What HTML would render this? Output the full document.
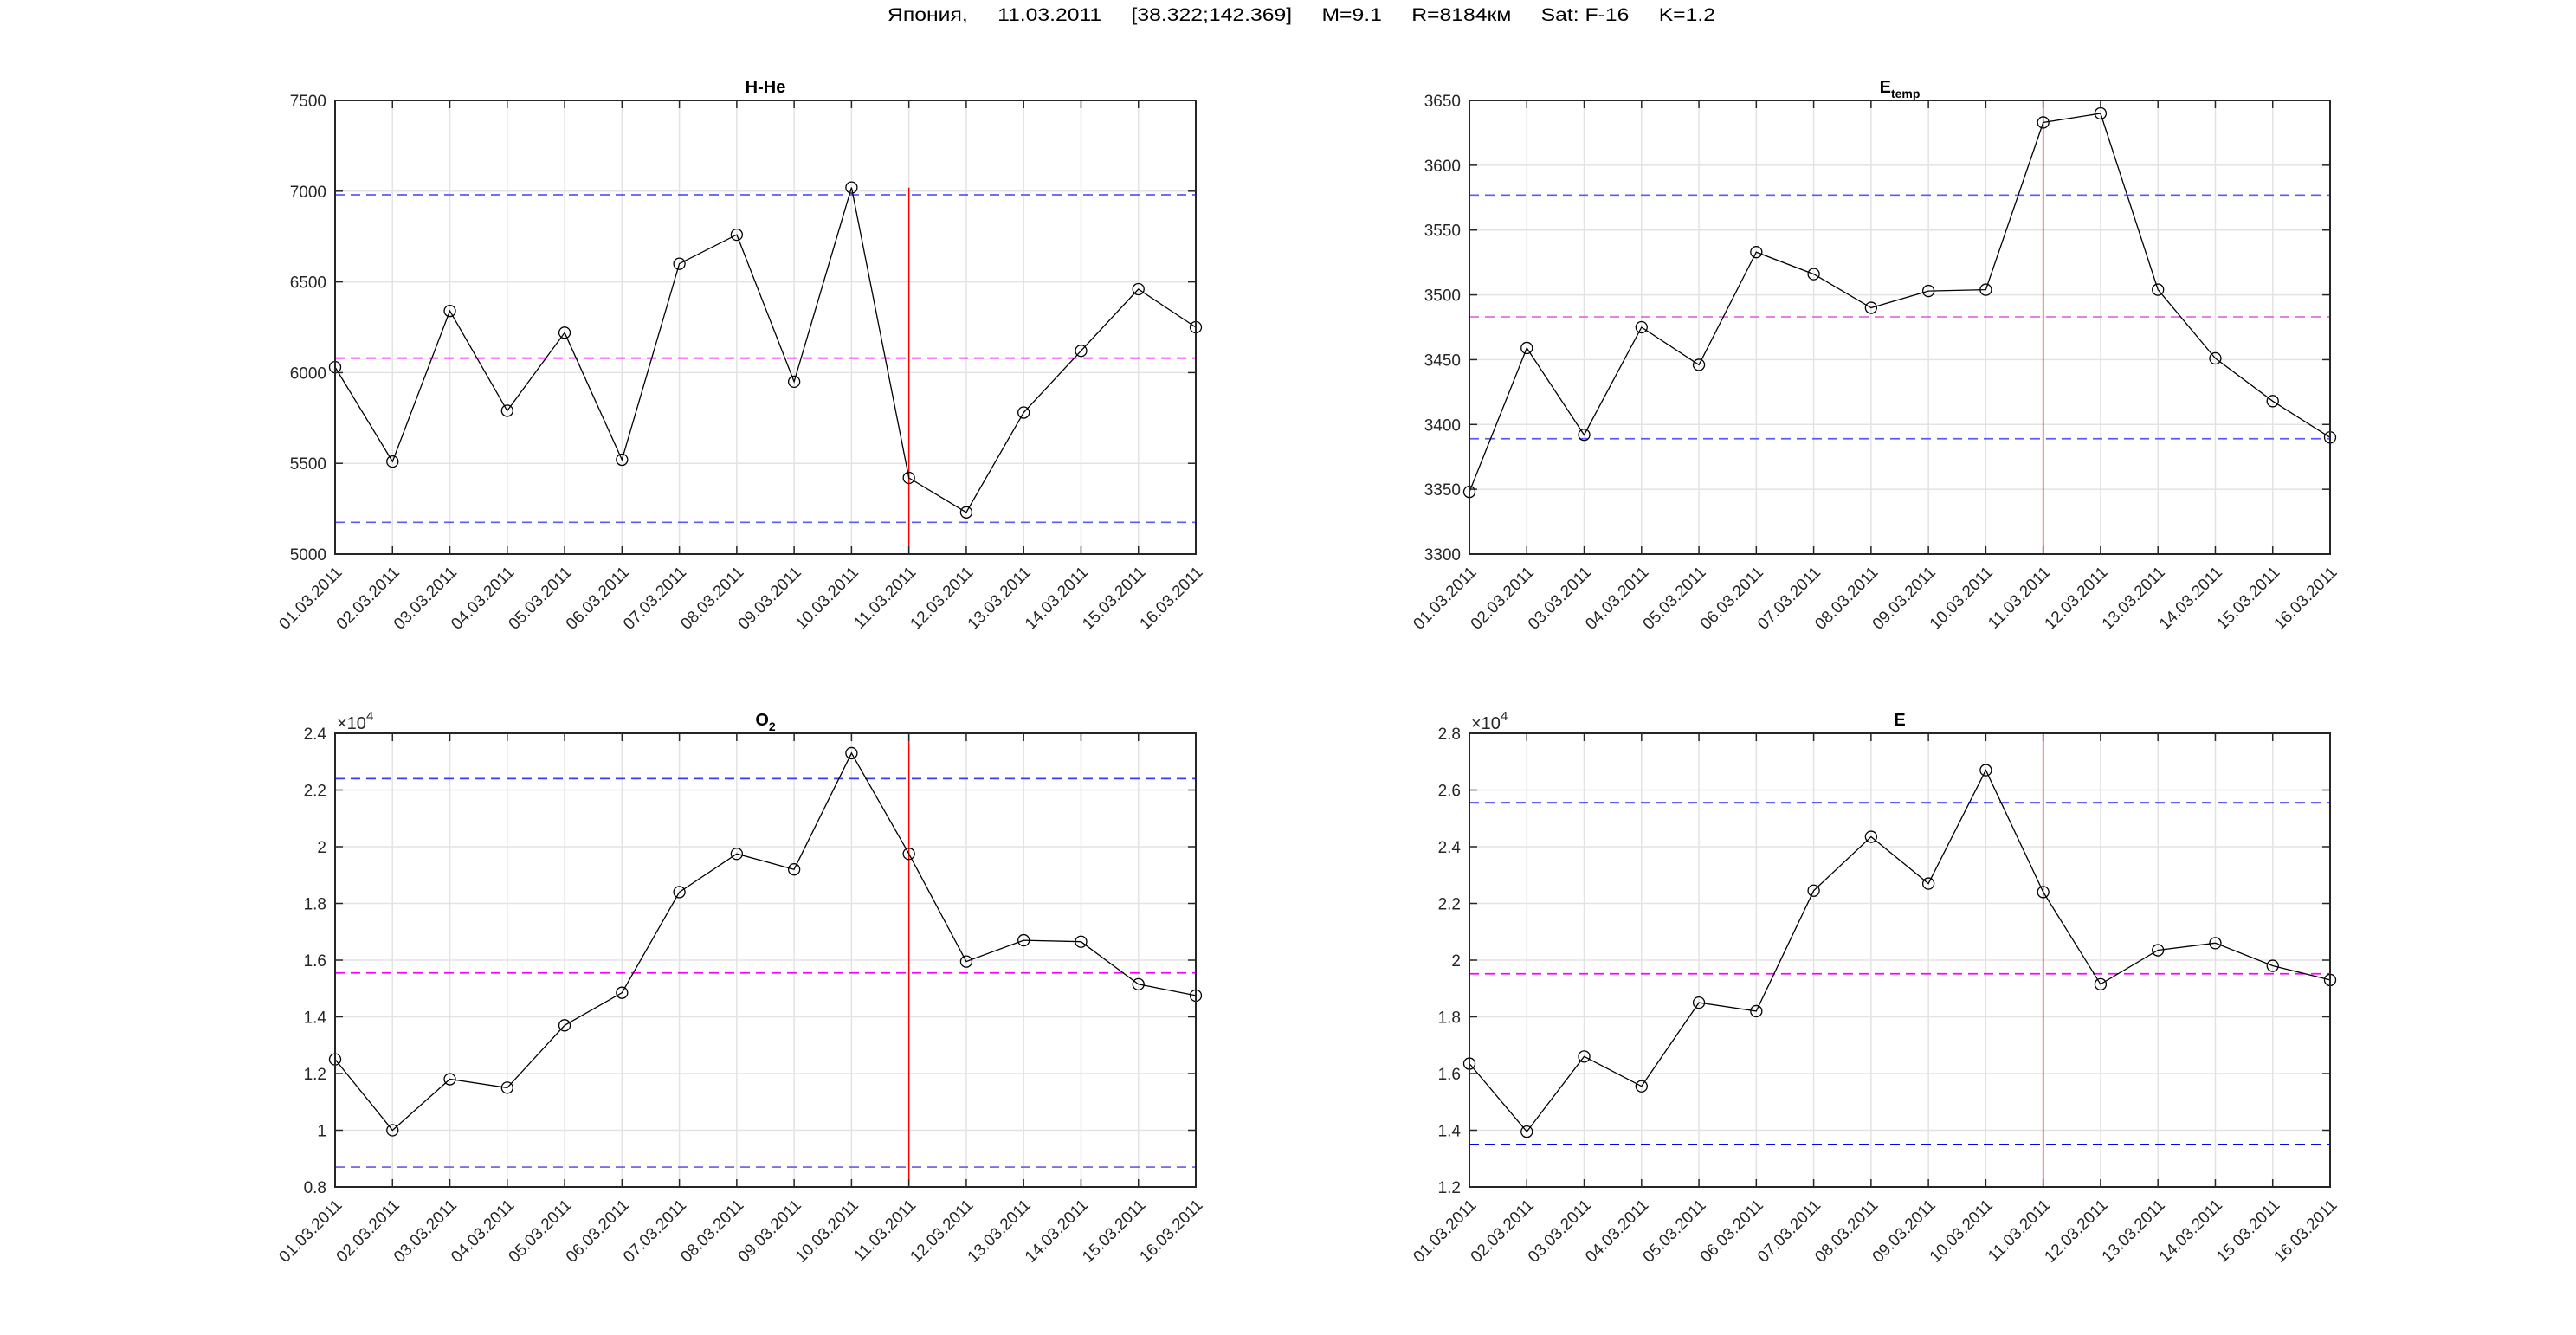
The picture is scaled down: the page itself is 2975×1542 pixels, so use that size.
<!DOCTYPE html>
<html><head><meta charset="utf-8"><style>
html,body{margin:0;padding:0;background:#fff}
svg{display:block}
text{font-family:"Liberation Sans",Arial,sans-serif;fill:#262626}
.yl{font-size:19px;text-anchor:end}
.dl{font-size:19px;text-anchor:end}
.tt{font-size:20px;font-weight:bold;fill:#000;text-anchor:middle}
</style></head><body>
<svg id="s" width="2975" height="1542" viewBox="0 0 2975 1542" xmlns="http://www.w3.org/2000/svg">
<rect width="2975" height="1542" fill="#fff"/>
<text x="1503" y="24" style="font-size:21px;fill:#000;text-anchor:middle" textLength="956" lengthAdjust="spacingAndGlyphs" xml:space="preserve">Япония,     11.03.2011     [38.322;142.369]     M=9.1     R=8184км     Sat: F-16     K=1.2</text>
<g id="geo"></g>

<text class="tt" x="884" y="107">H-He</text>
<text class="tt" x="2194" y="107">E<tspan dy="6" style="font-size:14px">temp</tspan></text>
<text class="tt" x="884" y="838">O<tspan dy="6" style="font-size:14px">2</tspan></text>
<text class="tt" x="2194" y="838">E</text>
<text x="389" y="842" style="font-size:20px">×10<tspan dy="-10" style="font-size:15px">4</tspan></text>
<text x="1699" y="842" style="font-size:20px">×10<tspan dy="-10" style="font-size:15px">4</tspan></text>

<g transform="translate(377,116)">
<text class="yl" y="531">5000</text><text class="yl" y="426.2">5500</text><text class="yl" y="321.4">6000</text><text class="yl" y="216.6">6500</text><text class="yl" y="111.8">7000</text><text class="yl" y="7">7500</text>
</g>
<g transform="translate(1687,116)">
<text class="yl" y="531">3300</text><text class="yl" y="456.1">3350</text><text class="yl" y="381.3">3400</text><text class="yl" y="306.4">3450</text><text class="yl" y="231.6">3500</text><text class="yl" y="156.7">3550</text><text class="yl" y="81.9">3600</text><text class="yl" y="7">3650</text>
</g>
<g transform="translate(377,847)">
<text class="yl" y="531">0.8</text><text class="yl" y="465.5">1</text><text class="yl" y="400">1.2</text><text class="yl" y="334.5">1.4</text><text class="yl" y="269">1.6</text><text class="yl" y="203.5">1.8</text><text class="yl" y="138">2</text><text class="yl" y="72.5">2.2</text><text class="yl" y="7">2.4</text>
</g>
<g transform="translate(1687,847)">
<text class="yl" y="531">1.2</text><text class="yl" y="465.5">1.4</text><text class="yl" y="400">1.6</text><text class="yl" y="334.5">1.8</text><text class="yl" y="269">2</text><text class="yl" y="203.5">2.2</text><text class="yl" y="138">2.4</text><text class="yl" y="72.5">2.6</text><text class="yl" y="7">2.8</text>
</g>

<g transform="translate(387,640)">
<text class="dl" transform="translate(9,22) rotate(-45)">01.03.2011</text>
<text class="dl" transform="translate(75.3,22) rotate(-45)">02.03.2011</text>
<text class="dl" transform="translate(141.5,22) rotate(-45)">03.03.2011</text>
<text class="dl" transform="translate(207.8,22) rotate(-45)">04.03.2011</text>
<text class="dl" transform="translate(274.1,22) rotate(-45)">05.03.2011</text>
<text class="dl" transform="translate(340.4,22) rotate(-45)">06.03.2011</text>
<text class="dl" transform="translate(406.6,22) rotate(-45)">07.03.2011</text>
<text class="dl" transform="translate(472.9,22) rotate(-45)">08.03.2011</text>
<text class="dl" transform="translate(539.2,22) rotate(-45)">09.03.2011</text>
<text class="dl" transform="translate(605.4,22) rotate(-45)">10.03.2011</text>
<text class="dl" transform="translate(671.7,22) rotate(-45)">11.03.2011</text>
<text class="dl" transform="translate(738,22) rotate(-45)">12.03.2011</text>
<text class="dl" transform="translate(804.2,22) rotate(-45)">13.03.2011</text>
<text class="dl" transform="translate(870.5,22) rotate(-45)">14.03.2011</text>
<text class="dl" transform="translate(936.8,22) rotate(-45)">15.03.2011</text>
<text class="dl" transform="translate(1003,22) rotate(-45)">16.03.2011</text>
</g>
<g transform="translate(1697,640)">
<text class="dl" transform="translate(9,22) rotate(-45)">01.03.2011</text>
<text class="dl" transform="translate(75.3,22) rotate(-45)">02.03.2011</text>
<text class="dl" transform="translate(141.5,22) rotate(-45)">03.03.2011</text>
<text class="dl" transform="translate(207.8,22) rotate(-45)">04.03.2011</text>
<text class="dl" transform="translate(274.1,22) rotate(-45)">05.03.2011</text>
<text class="dl" transform="translate(340.4,22) rotate(-45)">06.03.2011</text>
<text class="dl" transform="translate(406.6,22) rotate(-45)">07.03.2011</text>
<text class="dl" transform="translate(472.9,22) rotate(-45)">08.03.2011</text>
<text class="dl" transform="translate(539.2,22) rotate(-45)">09.03.2011</text>
<text class="dl" transform="translate(605.4,22) rotate(-45)">10.03.2011</text>
<text class="dl" transform="translate(671.7,22) rotate(-45)">11.03.2011</text>
<text class="dl" transform="translate(738,22) rotate(-45)">12.03.2011</text>
<text class="dl" transform="translate(804.2,22) rotate(-45)">13.03.2011</text>
<text class="dl" transform="translate(870.5,22) rotate(-45)">14.03.2011</text>
<text class="dl" transform="translate(936.8,22) rotate(-45)">15.03.2011</text>
<text class="dl" transform="translate(1003,22) rotate(-45)">16.03.2011</text>
</g>
<g transform="translate(387,1371)">
<text class="dl" transform="translate(9,22) rotate(-45)">01.03.2011</text>
<text class="dl" transform="translate(75.3,22) rotate(-45)">02.03.2011</text>
<text class="dl" transform="translate(141.5,22) rotate(-45)">03.03.2011</text>
<text class="dl" transform="translate(207.8,22) rotate(-45)">04.03.2011</text>
<text class="dl" transform="translate(274.1,22) rotate(-45)">05.03.2011</text>
<text class="dl" transform="translate(340.4,22) rotate(-45)">06.03.2011</text>
<text class="dl" transform="translate(406.6,22) rotate(-45)">07.03.2011</text>
<text class="dl" transform="translate(472.9,22) rotate(-45)">08.03.2011</text>
<text class="dl" transform="translate(539.2,22) rotate(-45)">09.03.2011</text>
<text class="dl" transform="translate(605.4,22) rotate(-45)">10.03.2011</text>
<text class="dl" transform="translate(671.7,22) rotate(-45)">11.03.2011</text>
<text class="dl" transform="translate(738,22) rotate(-45)">12.03.2011</text>
<text class="dl" transform="translate(804.2,22) rotate(-45)">13.03.2011</text>
<text class="dl" transform="translate(870.5,22) rotate(-45)">14.03.2011</text>
<text class="dl" transform="translate(936.8,22) rotate(-45)">15.03.2011</text>
<text class="dl" transform="translate(1003,22) rotate(-45)">16.03.2011</text>
</g>
<g transform="translate(1697,1371)">
<text class="dl" transform="translate(9,22) rotate(-45)">01.03.2011</text>
<text class="dl" transform="translate(75.3,22) rotate(-45)">02.03.2011</text>
<text class="dl" transform="translate(141.5,22) rotate(-45)">03.03.2011</text>
<text class="dl" transform="translate(207.8,22) rotate(-45)">04.03.2011</text>
<text class="dl" transform="translate(274.1,22) rotate(-45)">05.03.2011</text>
<text class="dl" transform="translate(340.4,22) rotate(-45)">06.03.2011</text>
<text class="dl" transform="translate(406.6,22) rotate(-45)">07.03.2011</text>
<text class="dl" transform="translate(472.9,22) rotate(-45)">08.03.2011</text>
<text class="dl" transform="translate(539.2,22) rotate(-45)">09.03.2011</text>
<text class="dl" transform="translate(605.4,22) rotate(-45)">10.03.2011</text>
<text class="dl" transform="translate(671.7,22) rotate(-45)">11.03.2011</text>
<text class="dl" transform="translate(738,22) rotate(-45)">12.03.2011</text>
<text class="dl" transform="translate(804.2,22) rotate(-45)">13.03.2011</text>
<text class="dl" transform="translate(870.5,22) rotate(-45)">14.03.2011</text>
<text class="dl" transform="translate(936.8,22) rotate(-45)">15.03.2011</text>
<text class="dl" transform="translate(1003,22) rotate(-45)">16.03.2011</text>
</g>
</svg>
<script>
(function(){
var NS="http://www.w3.org/2000/svg",g=document.getElementById("geo");
function el(t,a){var e=document.createElementNS(NS,t);for(var k in a)e.setAttribute(k,a[k]);g.appendChild(e);return e;}
var W=994,H=524;
var P=[
{x:387,y:116,mn:5000,mx:7500,st:500,d:[6030,5510,6340,5790,6220,5520,6600,6760,5950,7020,5420,5230,5780,6120,6460,6250],h:[[6980,"#5a5aff"],[6080,"#ff00ff"],[5175,"#5a5aff"]],red:7020},
{x:1697,y:116,mn:3300,mx:3650,st:50,d:[3348,3459,3392,3475,3446,3533,3516,3490,3503,3504,3633,3640,3504,3451,3418,3390],h:[[3577,"#5a5aff"],[3483,"#e070e0"],[3389,"#5a5aff"]],red:null},
{x:387,y:847,mn:0.8,mx:2.4,st:0.2,d:[1.25,1.0,1.18,1.15,1.37,1.485,1.84,1.975,1.92,2.33,1.975,1.595,1.67,1.665,1.515,1.475],h:[[2.24,"#3a3aff"],[1.555,"#ff00ff"],[0.87,"#6a5ae0"]],red:null},
{x:1697,y:847,mn:1.2,mx:2.8,st:0.2,d:[1.635,1.395,1.66,1.555,1.85,1.82,2.245,2.435,2.27,2.67,2.24,1.915,2.035,2.06,1.98,1.93],h:[[2.555,"#0000ff"],[1.952,"#ff00ff"],[1.35,"#0000ff"]],red:null}
];
P.forEach(function(p){
 var dx=W/15;
 function Y(v){return p.y+H-(v-p.mn)/(p.mx-p.mn)*H;}
 for(var i=0;i<16;i++){var x=p.x+i*dx;el("line",{x1:x,y1:p.y,x2:x,y2:p.y+H,stroke:"#e3e3e3","stroke-width":1.5});}
 var n=Math.round((p.mx-p.mn)/p.st);
 for(var k=0;k<=n;k++){var y=p.y+H-k*H/n;el("line",{x1:p.x,y1:y,x2:p.x+W,y2:y,stroke:"#e3e3e3","stroke-width":1.5});}
 p.h.forEach(function(h){el("line",{x1:p.x,y1:Y(h[0]),x2:p.x+W,y2:Y(h[0]),stroke:h[1],"stroke-width":1.7,"stroke-dasharray":"11,7"});});
 var rx=p.x+10*dx;
 el("line",{x1:rx,y1:p.red!==null?Y(p.red):p.y,x2:rx,y2:p.y+H,stroke:"#ff0000","stroke-width":1.5});
 var pts=p.d.map(function(v,i){return (p.x+i*dx).toFixed(1)+","+Y(v).toFixed(1);}).join(" ");
 el("polyline",{points:pts,fill:"none",stroke:"#000","stroke-width":1.3});
 p.d.forEach(function(v,i){el("circle",{cx:p.x+i*dx,cy:Y(v),r:6.5,fill:"none",stroke:"#000","stroke-width":1.3});});
 el("rect",{x:p.x,y:p.y,width:W,height:H,fill:"none",stroke:"#262626","stroke-width":2});
 for(var i=0;i<16;i++){var x=p.x+i*dx;el("line",{x1:x,y1:p.y+H,x2:x,y2:p.y+H-9,stroke:"#262626","stroke-width":1.5});el("line",{x1:x,y1:p.y,x2:x,y2:p.y+9,stroke:"#262626","stroke-width":1.5});}
 for(var k=0;k<=n;k++){var y=p.y+H-k*H/n;el("line",{x1:p.x,y1:y,x2:p.x+9,y2:y,stroke:"#262626","stroke-width":1.5});el("line",{x1:p.x+W,y1:y,x2:p.x+W-9,y2:y,stroke:"#262626","stroke-width":1.5});}
});
})();
</script>
</body></html>
